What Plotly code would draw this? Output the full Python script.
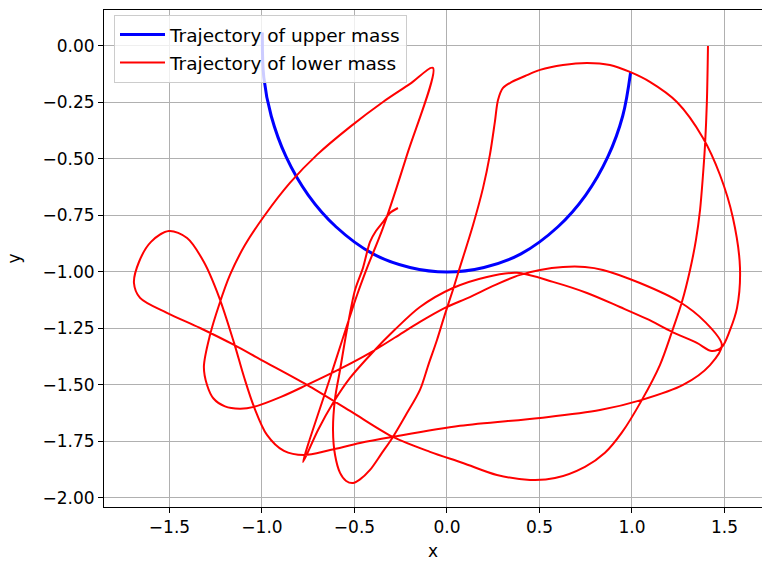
import plotly.graph_objects as go

# Upper mass trajectory
upper_x = [-0.998, -0.99, -0.95, -0.87, -0.75, -0.6, -0.4, -0.2, 0.0, 0.2, 0.4, 0.6, 0.75, 0.87, 0.95, 0.993]
upper_y = [0.06, -0.14, -0.31, -0.49, -0.66, -0.80, -0.92, -0.98, -1.0, -0.98, -0.92, -0.80, -0.66, -0.49, -0.31, -0.115]

# Lower mass trajectory
lower_x = [-0.265, -0.308, -0.346, -0.384, -0.416, -0.454, -0.497, -0.541, -0.578, -0.605,
           -0.616, -0.605, -0.578, -0.545, -0.508, -0.470, -0.416, -0.355, -0.292, -0.220,
           -0.146, -0.100, -0.054, -0.012, 0.032, 0.062, 0.141, 0.195, 0.232, 0.259,
           0.276, 0.303, 0.351, 0.422, 0.503, 0.627, 0.757, 0.881, 0.989, 1.097,
           1.243, 1.384, 1.476, 1.546, 1.584, 1.568, 1.530, 1.486,
           1.432, 1.351, 1.216, 1.081, 0.935, 0.757, 0.573, 0.378, 0.216, 0.032,
           -0.146, -0.281, -0.400, -0.524, -0.616, -0.697, -0.778,
           -0.632, -0.486, -0.432, -0.346, -0.216, -0.076,
           -0.200, -0.346, -0.524, -0.703, -0.849, -0.984, -1.092, -1.173, -1.232, -1.281,
           -1.314, -1.297, -1.262, -1.200, -1.120, -1.043, -0.897, -0.757, -0.578, -0.416,
           -0.281, -0.146, -0.011, 0.124, 0.259, 0.395, 0.503, 0.627, 0.746, 0.843,
           1.043, 1.259, 1.395, 1.486,
           1.422, 1.276, 1.054, 0.827, 0.503, 0.070, -0.292, -0.470, -0.632, -0.773,
           -0.881, -0.973, -1.043, -1.097, -1.151, -1.232, -1.314, -1.405, -1.503, -1.600,
           -1.665, -1.692, -1.659, -1.514, -1.335, -1.151, -1.005, -0.757, -0.524, -0.292,
           -0.092, 0.086, 0.270, 0.449, 0.584, 0.746, 0.854, 0.946, 1.054, 1.151,
           1.216, 1.270, 1.314, 1.346, 1.368, 1.384, 1.395, 1.405, 1.411]
lower_y = [-0.717, -0.739, -0.779, -0.819, -0.867, -0.982, -1.080, -1.257, -1.434, -1.560,
           -1.700, -1.810, -1.889, -1.925, -1.934, -1.918, -1.876, -1.805, -1.730, -1.630,
           -1.522, -1.410, -1.301, -1.190, -1.080, -1.000, -0.792, -0.628, -0.482, -0.336,
           -0.239, -0.186, -0.159, -0.133, -0.106, -0.084, -0.075, -0.084, -0.115, -0.159,
           -0.248, -0.407, -0.571, -0.761, -0.982, -1.159, -1.257, -1.332,
           -1.350, -1.314, -1.265, -1.208, -1.155, -1.093, -1.044, -1.004, -1.022, -1.071,
           -1.155, -1.255, -1.354, -1.469, -1.580, -1.699, -1.841,
           -1.469, -1.102, -0.982, -0.805, -0.482, -0.097,
           -0.168, -0.248, -0.358, -0.482, -0.606, -0.748, -0.881, -1.013, -1.146, -1.279,
           -1.420, -1.500, -1.560, -1.595, -1.605, -1.597, -1.553, -1.500, -1.429, -1.358,
           -1.290, -1.221, -1.159, -1.111, -1.058, -1.013, -0.991, -0.978, -0.978, -0.991,
           -1.049, -1.133, -1.221, -1.323,
           -1.412, -1.500, -1.566, -1.611, -1.646, -1.681, -1.730, -1.757, -1.788, -1.810,
           -1.792, -1.721, -1.597, -1.465, -1.314, -1.111, -0.956, -0.850, -0.819, -0.867,
           -0.956, -1.049, -1.115, -1.181, -1.248, -1.323, -1.389, -1.500, -1.615, -1.730,
           -1.796, -1.845, -1.898, -1.920, -1.912, -1.862, -1.800, -1.710, -1.566, -1.412,
           -1.265, -1.133, -0.991, -0.858, -0.726, -0.571, -0.438, -0.248, 0.000]

x_ticks = [-1.5, -1.0, -0.5, 0.0, 0.5, 1.0, 1.5]
y_ticks = [0.0, -0.25, -0.5, -0.75, -1.0, -1.25, -1.5, -1.75, -2.0]

FONT = "DejaVu Sans"
FS = 17
LFS = 18.5

fig = go.Figure()
fig.add_trace(go.Scatter(x=upper_x, y=upper_y, mode="lines", name="Trajectory of upper mass",
                         legendgroup="a",
                         line=dict(color="#0000ff", width=3, shape="spline", smoothing=1)))
fig.add_trace(go.Scatter(x=lower_x, y=lower_y, mode="lines", name="Trajectory of lower mass",
                         legendgroup="b",
                         line=dict(color="#ff0000", width=2, shape="spline", smoothing=0.9)))

axis_common = dict(
    showgrid=True, gridcolor="#b0b0b0", gridwidth=1,
    zeroline=False, showline=True, linecolor="black", linewidth=1,
    ticks="outside", ticklen=5, tickcolor="black", tickwidth=1,
    tickfont=dict(family=FONT, size=FS, color="black"),
)

fig.update_layout(
    width=762, height=564,
    margin=dict(l=104, r=0, t=10, b=57),
    paper_bgcolor="white", plot_bgcolor="white",
    font=dict(family=FONT, size=FS, color="black"),
    xaxis=dict(range=[-1.854, 1.703], tickvals=x_ticks,
               ticktext=[f"{v:.1f}".replace("-", "\u2212") for v in x_ticks],
               mirror=True, title=dict(text="x", font=dict(family=FONT, size=FS), standoff=8),
               **axis_common),
    yaxis=dict(range=[-2.040, 0.159], tickvals=y_ticks,
               ticktext=[f"{v:.2f}".replace("-", "\u2212") for v in y_ticks],
               title=dict(text="y", font=dict(family=FONT, size=FS), standoff=17),
               **axis_common),
    legend=dict(x=0.0152, y=0.99, xanchor="left", yanchor="top",
                bgcolor="rgba(255,255,255,0.8)", bordercolor="#cccccc", borderwidth=1,
                font=dict(family=FONT, size=LFS, color="black"), tracegroupgap=1,
                itemwidth=45),
    showlegend=True,
)

fig.write_html("out.html")
